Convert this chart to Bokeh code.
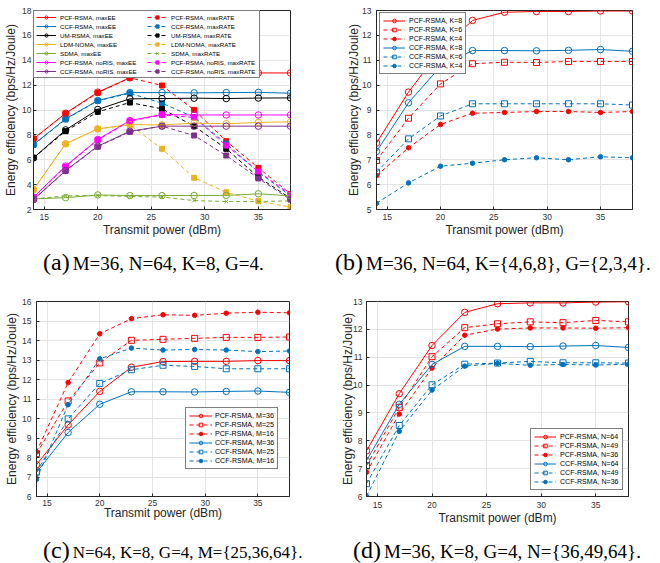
from bokeh.plotting import figure
from bokeh.models import Legend, LegendItem, FixedTicker, Range1d, Div
from bokeh.layouts import column, row
from bokeh.embed import file_html
from bokeh.resources import INLINE

# ---------------- data ----------------
power = [14, 17, 20, 23, 26, 29, 32, 35, 38]
x_ticks = [15, 20, 25, 30, 35]

# (a) M=36, N=64, K=8, G=4
a_pcf_ee = [7.68, 9.74, 11.43, 12.59, 12.92, 12.95, 12.95, 12.98, 12.98]
a_pcf_rate = [7.68, 9.72, 11.38, 12.59, 11.97, 10.01, 7.49, 5.35, 3.25]
a_ccf_ee = [7.22, 9.29, 10.76, 11.40, 11.40, 11.38, 11.40, 11.42, 11.35]
a_ccf_rate = [7.20, 9.25, 10.74, 11.35, 10.55, 9.42, 7.30, 5.00, 3.10]
a_um_ee = [6.15, 8.40, 10.04, 10.90, 10.92, 10.95, 10.92, 10.96, 10.97]
a_um_rate = [6.15, 8.30, 9.85, 10.60, 10.09, 8.70, 6.88, 4.60, 2.90]
a_ldm_ee = [3.61, 7.28, 8.48, 8.83, 8.80, 8.94, 8.90, 9.00, 9.05]
a_ldm_rate = [3.61, 7.28, 8.48, 8.80, 6.88, 4.55, 3.39, 2.67, 2.19]
a_sdma_ee = [2.85, 2.95, 3.17, 3.12, 3.12, 3.13, 3.13, 3.26, 3.10]
a_sdma_rate = [2.85, 3.10, 3.12, 3.05, 3.00, 2.72, 2.64, 2.64, 2.70]
a_pcfn_ee = [2.99, 5.50, 7.63, 9.15, 9.64, 9.60, 9.60, 9.60, 9.60]
a_pcfn_rate = [2.99, 5.45, 7.60, 9.10, 9.60, 9.40, 7.14, 5.05, 3.20]
a_ccfn_ee = [2.80, 5.13, 7.09, 8.29, 8.70, 8.70, 8.70, 8.70, 8.70]
a_ccfn_rate = [2.80, 5.10, 7.05, 8.25, 8.70, 7.95, 6.34, 4.50, 2.80]
a_labels = ["PCF-RSMA, maxEE", "CCF-RSMA, maxEE", "UM-RSMA, maxEE", "LDM-NOMA, maxEE",
            "SDMA, maxEE", "PCF-RSMA, noRIS, maxEE", "CCF-RSMA, noRIS, maxEE",
            "PCF-RSMA, maxRATE", "CCF-RSMA, maxRATE", "UM-RSMA, maxRATE", "LDM-NOMA, maxRATE",
            "SDMA, maxRATE", "PCF-RSMA, noRIS, maxRATE", "CCF-RSMA, noRIS, maxRATE"]
a_yticks = [2, 4, 6, 8, 10, 12, 14, 16, 18]

# (b) K={4,6,8}
b_pcf_k8 = [7.67, 9.72, 11.42, 12.60, 12.93, 12.96, 12.96, 12.98, 12.98]
b_pcf_k6 = [6.97, 8.67, 10.05, 10.86, 10.92, 10.91, 10.95, 10.95, 10.95]
b_pcf_k4 = [6.36, 7.48, 8.42, 8.87, 8.90, 8.94, 8.94, 8.90, 8.94]
b_ccf_k8 = [7.33, 9.29, 10.75, 11.39, 11.39, 11.38, 11.40, 11.43, 11.36]
b_ccf_k6 = [6.50, 7.84, 8.76, 9.25, 9.25, 9.25, 9.25, 9.25, 9.20]
b_ccf_k4 = [5.25, 6.07, 6.74, 6.86, 7.00, 7.08, 7.00, 7.12, 7.08]
b_labels = ["PCF-RSMA, K=8", "PCF-RSMA, K=6", "PCF-RSMA, K=4",
            "CCF-RSMA, K=8", "CCF-RSMA, K=6", "CCF-RSMA, K=4"]
b_yticks = [5, 6, 7, 8, 9, 10, 11, 12, 13]

# (c) M values
c_pcf_m36 = [7.63, 9.67, 11.39, 12.63, 12.92, 12.93, 12.93, 12.97, 12.97]
c_pcf_m25 = [8.20, 10.90, 12.85, 14.01, 14.06, 14.11, 14.16, 14.16, 14.18]
c_pcf_m16 = [8.29, 11.84, 14.34, 15.12, 15.32, 15.29, 15.40, 15.45, 15.42]
c_ccf_m36 = [7.24, 9.28, 10.73, 11.37, 11.37, 11.36, 11.39, 11.41, 11.34]
c_ccf_m25 = [7.26, 9.98, 11.80, 12.50, 12.73, 12.67, 12.55, 12.55, 12.55]
c_ccf_m16 = [6.88, 10.71, 13.06, 13.61, 13.51, 13.54, 13.51, 13.43, 13.46]
c_labels = ["PCF-RSMA, M=36", "PCF-RSMA, M=25", "PCF-RSMA, M=16",
            "CCF-RSMA, M=36", "CCF-RSMA, M=25", "CCF-RSMA, M=16"]
c_yticks = [6, 7, 8, 9, 10, 11, 12, 13, 14, 15, 16]

# (d) N values
d_pcf_n64 = [7.64, 9.69, 11.42, 12.61, 12.92, 12.95, 12.95, 12.98, 12.99]
d_pcf_n49 = [7.11, 9.20, 11.02, 12.06, 12.20, 12.27, 12.24, 12.32, 12.27]
d_pcf_n36 = [6.87, 8.96, 10.61, 11.79, 12.01, 12.05, 12.05, 12.04, 12.06]
d_ccf_n64 = [7.29, 9.31, 10.74, 11.39, 11.39, 11.38, 11.40, 11.42, 11.35]
d_ccf_n49 = [6.46, 8.55, 10.01, 10.75, 10.79, 10.85, 10.80, 10.80, 10.79]
d_ccf_n36 = [6.01, 8.34, 9.82, 10.68, 10.78, 10.71, 10.74, 10.72, 10.75]
d_labels = ["PCF-RSMA, N=64", "PCF-RSMA, N=49", "PCF-RSMA, N=36",
            "CCF-RSMA, N=64", "CCF-RSMA, N=49", "CCF-RSMA, N=36"]
d_yticks = [6, 7, 8, 9, 10, 11, 12, 13]

captions = [("(a)", "M=36, N=64, K=8, G=4."),
            ("(b)", "M=36, N=64, K={4,6,8}, G={2,3,4}."),
            ("(c)", "N=64, K=8, G=4, M={25,36,64}."),
            ("(d)", "M=36, K=8, G=4, N={36,49,64}.")]

# ---------------- style ----------------
RED = "#ff0000"
BLUE = "#0072bd"
BLACK = "#000000"
YELLOW = "#edb120"
GREEN = "#77ac30"
MAGENTA = "#ff00ff"
PURPLE = "#7e2f8e"
DASH = "4 3"
SANS = "Liberation Sans"
AX = "#262626"


def make_fig(width, height, left, right, top, bottom, yr, yticks, tstand, lstand, ystand, ylstand):
    p = figure(width=width, height=height, min_border_left=left, min_border_right=right,
               min_border_top=top, min_border_bottom=bottom,
               x_range=Range1d(14, 38), y_range=Range1d(*yr),
               output_backend="svg", toolbar_location=None,
               x_axis_label="Transmit power (dBm)",
               y_axis_label="Energy efficiency (bps/Hz/Joule)")
    p.outline_line_color = AX
    p.outline_line_width = 1
    p.background_fill_color = "white"
    p.border_fill_color = "white"
    p.xaxis.ticker = FixedTicker(ticks=x_ticks)
    p.yaxis.ticker = FixedTicker(ticks=yticks)
    for ax in (p.xaxis[0], p.yaxis[0]):
        ax.axis_line_color = AX
        ax.major_tick_line_color = AX
        ax.major_tick_in = 3
        ax.major_tick_out = 0
        ax.minor_tick_line_color = None
        ax.major_label_text_font = SANS
        ax.major_label_text_font_size = "8.5px"
        ax.major_label_text_color = "#333333"
        ax.axis_label_text_font = SANS
        ax.axis_label_text_font_size = "12px"
        ax.axis_label_text_font_style = "normal"
        ax.axis_label_text_color = AX
    p.xaxis.major_label_standoff = tstand
    p.xaxis.axis_label_standoff = lstand
    p.yaxis.major_label_standoff = ystand
    p.yaxis.axis_label_standoff = ylstand
    p.grid.grid_line_color = "#e3e3e3"
    p.grid.grid_line_width = 1
    return p


def series(p, y, color, dash, marker, size, fill, lw=1.0):
    r1 = p.line(power, y, line_color=color, line_width=lw, line_dash=dash)
    r2 = p.scatter(power, y, marker=marker, size=size, line_color=color,
                   fill_color=(color if fill else None), line_width=1)
    return [r1, r2]


def style_legend(leg, fs, gw, gh, lh, pad, spacing, standoff):
    leg.label_text_font = SANS
    leg.label_text_font_size = fs
    leg.label_text_color = "black"
    leg.glyph_width = gw
    leg.glyph_height = gh
    leg.label_height = lh
    leg.padding = pad
    leg.spacing = spacing
    leg.label_standoff = standoff
    leg.margin = 0
    leg.border_line_color = "black"
    leg.border_line_width = 0.8
    leg.background_fill_color = "white"
    leg.background_fill_alpha = 1


def caption_div(height, parts):
    html = ['<div style="position:relative;width:660px;height:%dpx;overflow:visible;'
            'font-family:\'Liberation Serif\',serif;color:black;">' % height]
    for (tag, text, x, top, size) in parts:
        html.append('<div style="position:absolute;left:%dpx;top:%dpx;white-space:nowrap;'
                    'line-height:20px;font-size:24px;">'
                    '<span style="font-size:24px;margin-right:3px;">%s</span>'
                    '<span style="font-size:%dpx;">%s</span></div>' % (x, top, tag, size, text))
    html.append('</div>')
    return Div(text="".join(html), width=660, height=height, margin=0,
               styles={"overflow": "visible"})


# ---------------- panel (a) ----------------
pa = make_fig(330, 242, 33, 40, 10, 33, (2, 18), a_yticks, 4, 0, 2, 1)
a_ee = [(a_pcf_ee, RED), (a_ccf_ee, BLUE), (a_um_ee, BLACK), (a_ldm_ee, YELLOW),
        (a_sdma_ee, GREEN), (a_pcfn_ee, MAGENTA), (a_ccfn_ee, PURPLE)]
a_rate = [(a_pcf_rate, RED), (a_ccf_rate, BLUE), (a_um_rate, BLACK), (a_ldm_rate, YELLOW),
          (a_sdma_rate, GREEN), (a_pcfn_rate, MAGENTA), (a_ccfn_rate, PURPLE)]
rate_r = []
for y, c in a_rate:
    mk = "x" if c == GREEN else "square"
    rate_r.append(series(pa, y, c, DASH, mk, 5, True))
ee_r = []
for y, c in a_ee:
    ee_r.append(series(pa, y, c, "solid", "circle", 6.5, False))
a_items = []
for i, rs in enumerate(ee_r):
    a_items.append(LegendItem(label=a_labels[i], renderers=rs))
for i, rs in enumerate(rate_r):
    a_items.append(LegendItem(label=a_labels[7 + i], renderers=rs))
leg_a = Legend(items=a_items, location="top_left", nrows=7)
style_legend(leg_a, "6.2px", 20, 8, 8, 2, 1, 4)
leg_a.label_width = 86
pa.add_layout(leg_a)

# ---------------- panel (b) ----------------
pb = make_fig(330, 242, 46, 28, 10, 33, (5, 13), b_yticks, 4, 0, 5, -2)
b_sets = [(b_pcf_k8, RED, "solid", "circle", 6.5, False),
          (b_pcf_k6, RED, DASH, "square", 6, False),
          (b_pcf_k4, RED, DASH, "circle", 4.5, True),
          (b_ccf_k8, BLUE, "solid", "circle", 6.5, False),
          (b_ccf_k6, BLUE, DASH, "square", 6, False),
          (b_ccf_k4, BLUE, DASH, "circle", 4.5, True)]
b_items = []
for i, (y, c, d, m, s, f) in enumerate(b_sets):
    b_items.append(LegendItem(label=b_labels[i], renderers=series(pb, y, c, d, m, s, f)))
leg_b = Legend(items=b_items, location=(3, 135))
style_legend(leg_b, "7px", 22, 9, 9, 3, 0, 4)
pb.add_layout(leg_b)

# ---------------- panel (c) ----------------
pc = make_fig(330, 247, 36, 41, 20, 26, (6, 16), c_yticks, 3, -3, 5, 0)
c_sets = [(c_pcf_m36, RED, "solid", "circle", 6.5, False),
          (c_pcf_m25, RED, DASH, "square", 6, False),
          (c_pcf_m16, RED, DASH, "circle", 4.5, True),
          (c_ccf_m36, BLUE, "solid", "circle", 6.5, False),
          (c_ccf_m25, BLUE, DASH, "square", 6, False),
          (c_ccf_m16, BLUE, DASH, "circle", 4.5, True)]
c_items = []
for i, (y, c, d, m, s, f) in enumerate(c_sets):
    c_items.append(LegendItem(label=c_labels[i], renderers=series(pc, y, c, d, m, s, f)))
leg_c = Legend(items=c_items, location=(149, 27))
style_legend(leg_c, "7.1px", 23, 9, 9, 3, 0, 3)
pc.add_layout(leg_c)

# ---------------- panel (d) ----------------
pd_ = make_fig(330, 247, 36, 32, 21, 28, (6, 13), d_yticks, 5, 0, 4, -5)
d_sets = [(d_pcf_n64, RED, "solid", "circle", 6.5, False),
          (d_pcf_n49, RED, DASH, "square", 6, False),
          (d_pcf_n36, RED, DASH, "circle", 4.5, True),
          (d_ccf_n64, BLUE, "solid", "circle", 6.5, False),
          (d_ccf_n49, BLUE, DASH, "square", 6, False),
          (d_ccf_n36, BLUE, DASH, "circle", 4.5, True)]
d_items = []
for i, (y, c, d, m, s, f) in enumerate(d_sets):
    d_items.append(LegendItem(label=d_labels[i], renderers=series(pd_, y, c, d, m, s, f)))
leg_d = Legend(items=d_items, location=(164, 6))
style_legend(leg_d, "7.1px", 22, 9, 9, 3, 0, 4)
pd_.add_layout(leg_d)

cap1 = caption_div(38, [(captions[0][0], captions[0][1], 43, 10, 19),
                        (captions[1][0], captions[1][1], 335, 10, 19)])
cap2 = caption_div(36, [(captions[2][0], captions[2][1], 43, 13, 17),
                        (captions[3][0], captions[3][1], 353, 13, 19)])

root = column(row(pa, pb), cap1, row(pc, pd_), cap2)
open("out.html", "w").write(file_html(root, INLINE))
